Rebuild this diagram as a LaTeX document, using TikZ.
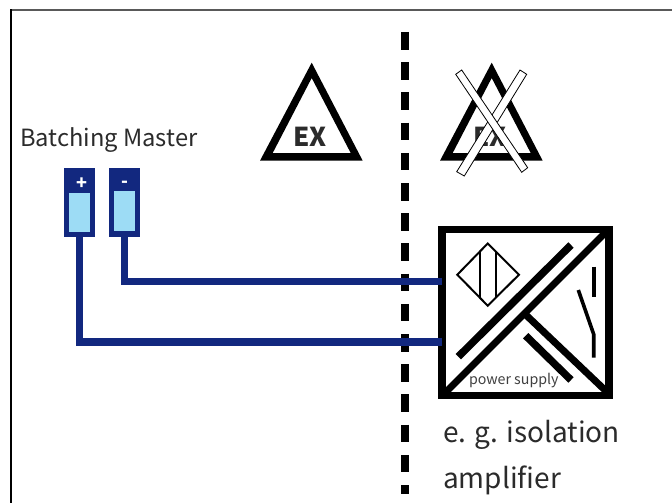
\documentclass[tikz,border=0pt]{standalone}
\usepackage{fontspec}
\setmainfont{Noto Sans CJK JP}
\definecolor{navy}{HTML}{12287F}
\definecolor{lightb}{HTML}{9DDCF5}
\definecolor{txt}{HTML}{2B2B2B}
\tikzset{
  every node/.style={outer sep=0pt},
  wire/.style={draw=navy,line width=7.5pt},
  thick bar/.style={draw=black,line width=7pt},
  sym/.style={draw=black,line width=3.6pt},
  thin sym/.style={draw=black,line width=2pt},
  terminal/.style={fill=navy,minimum width=31pt,minimum height=69pt,inner sep=0pt,anchor=north west},
  contact/.style={fill=lightb,minimum width=21pt,inner sep=0pt,anchor=north west},
  label/.style={inner sep=0pt,text=txt,anchor=base west},
  strike/.style={fill=white,draw=black,line width=0.8pt},
  tri/.style={fill=black,even odd rule},
  divider/.style={draw=black,line width=8pt},
}
\begin{document}
\begin{tikzpicture}[x=1pt,y=-1pt]
\useasboundingbox (0,0) rectangle (672,503);
\fill[white] (0,0) rectangle (672,503);
% frame
\draw[black!65,line width=1.2pt] (11,10) -- (672,10);
\draw[black,line width=1.2pt] (11,503) -- (11,9.4);
% divider
\foreach \y in {32,62.2,92.4,122.6,152.8,183,213.2,243.4,273.6,303.8,334,364.2,394.4,424.6,454.8}
  \draw[divider] (405,\y) -- (405,\y+17.6);
\draw[divider] (405,485) -- (405,494);
% left triangle
\fill[tri] (311.7,62.7) -- (362.7,160.7) -- (260,160.7) -- cycle
  (311.7,78) -- (350.7,153) -- (272.7,153) -- cycle;
\node[inner sep=0pt,text=txt] (exa) at (310,137) {\fontsize{26}{26}\selectfont\bfseries EX};
% right triangle
\fill[tri] (491.7,62.7) -- (542.7,160.7) -- (440,160.7) -- cycle
  (491.7,78) -- (530.7,153) -- (452.7,153) -- cycle;
\node[inner sep=0pt,text=txt] (exb) at (490,137) {\fontsize{26}{26}\selectfont\bfseries EX};
\filldraw[strike] (520,70) -- (526.7,74.3) -- (464.3,176) -- (456.7,171.7) -- cycle;
\filldraw[strike] (455.7,74.3) -- (461.7,70) -- (527.7,167.7) -- (521.7,172.3) -- cycle;
% terminals
\node[label] (bm) at (20,146) {\fontsize{23.7}{24}\selectfont Batching Master};
\node[terminal] (plus) at (64,168) {};
\node[terminal] (minus) at (109,168) {};
\node[contact,minimum height=38.7pt] (pc) at (69,193) {};
\node[contact,minimum height=40pt] (mc) at (114,191) {};
\node[inner sep=0pt,text=white] (pl) at (82,184) {\fontsize{18}{18}\selectfont\bfseries +};
\node[inner sep=0pt,text=white] (ml) at (124.5,184.5) {\fontsize{18}{18}\selectfont\bfseries -};
% amplifier box
\node[draw=black,line width=7.5pt,minimum width=166.9pt,minimum height=166pt,inner sep=0pt,anchor=north west] (amp) at (442.1,229.5) {};
\coordinate (ampM) at (amp.west |- 0,281.7);
\coordinate (ampP) at (amp.west |- 0,342);
% wires
\draw[wire] (minus.south) |- (ampM);
\draw[wire] (plus.south) |- (ampP);
% amplifier inside
\begin{scope}
\clip (446,233) rectangle (605,392);
\draw[thick bar] (443,395) -- (608,230);
\draw[thick bar] (526,315) -- (608,393);
\end{scope}
\draw[thick bar,line width=7.5pt] (458.3,356.7) -- (571,245);
\draw[thick bar,line width=7.5pt] (525.7,335.7) -- (571,380);
\draw[sym] (593.7,266.7) -- (593.7,297.3);
\draw[sym,miter limit=10] (578.3,290) -- (593.7,334.3) -- (593.7,357.7);
\draw[thin sym] (487.7,243.5) -- (519,274.7) -- (487.7,305.7) -- (457.3,274.7) -- cycle;
\draw[thin sym] (480,251) -- (480,298);
\draw[thin sym] (495.7,251) -- (495.7,298);
\node[label,text=black!75] (ps) at (469,384) {\fontsize{14.2}{15}\selectfont power supply};
\node[label] (iso) at (443,442.5) {\fontsize{28}{28}\selectfont e. g. isolation};
\node[label] (ampl) at (443,488) {\fontsize{28}{28}\selectfont amplifier};
\end{tikzpicture}
\end{document}
